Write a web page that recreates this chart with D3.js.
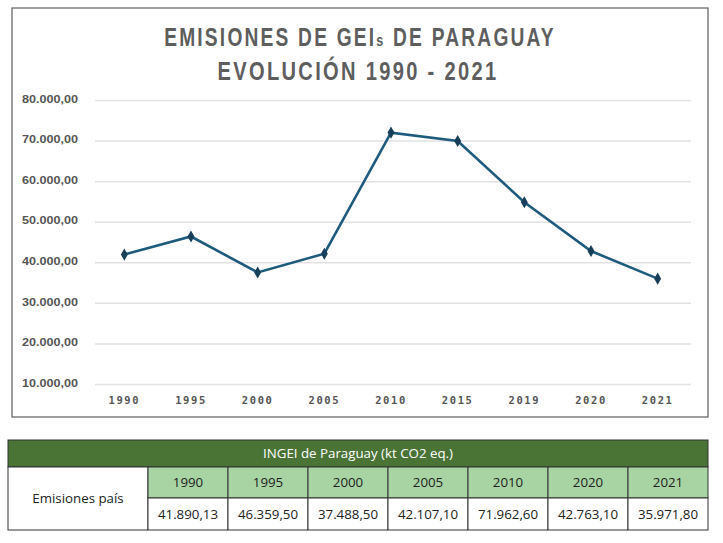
<!DOCTYPE html>
<html><head><meta charset="utf-8">
<script src="https://cdn.jsdelivr.net/npm/d3@7"></script>
<style>body{margin:0;background:#fff}</style>
</head><body>
<svg id="c" width="723" height="543"></svg>
<script>
const years = ["1990","1995","2000","2005","2010","2015","2019","2020","2021"];
const emissions = [41890.13, 46359.5, 37488.5, 42107.1, 71962.6, 69900, 54800, 42763.1, 35971.8];
const yTicks = [10000,20000,30000,40000,50000,60000,70000,80000];
const tableYears = ["1990","1995","2000","2005","2010","2020","2021"];
const tableValues = ["41.890,13","46.359,50","37.488,50","42.107,10","71.962,60","42.763,10","35.971,80"];
const titleLines = ["EMISIONES DE GEIs DE PARAGUAY","EVOLUCIÓN 1990 - 2021"];
const tableTitle = "INGEI de Paraguay (kt CO2 eq.)";
const rowLabel = "Emisiones país";

const svg = d3.select("#c");
// chart frame
svg.append("rect").attr("x",12).attr("y",8).attr("width",696).attr("height",409)
  .attr("fill","#fff").attr("stroke","#6b6b6b").attr("stroke-width",1.3);

// title: condensed look via horizontal scale fitted to target width
const titleFont = "'Liberation Sans','Arial',sans-serif";
function fitTitle(build, cxPos, baseY, targetW){
  const g = svg.append("g");
  const t = g.append("text").attr("x",0).attr("y",0).attr("text-anchor","middle")
    .attr("font-family",titleFont).attr("font-weight","bold").attr("font-size",26)
    .attr("letter-spacing",3).attr("fill","#5e5e5e");
  build(t);
  const w = t.node().getBBox().width;
  const s = targetW / w;
  g.attr("transform",`translate(${cxPos},${baseY}) scale(${s},1)`);
}
fitTitle(t => {
  t.append("tspan").text("EMISIONES DE GEI");
  t.append("tspan").attr("font-size",17).text("s");
  t.append("tspan").text(" DE PARAGUAY");
}, 360, 46, 392);
fitTitle(t => t.text(titleLines[1]), 358, 80, 281);

const x = d3.scaleBand().domain(years).range([91,691]);
const y = d3.scaleLinear().domain([10000,80000]).range([384,100]);

const fmt = v => d3.format(",.2f")(v).replace(/,/g,"X").replace(/\./g,",").replace(/X/g,".");

// grid
const yAxis = d3.axisLeft(y).tickValues(yTicks).tickSize(-(691-95)).tickFormat(fmt);
const gy = svg.append("g").attr("transform","translate(95,0)").call(yAxis);
gy.select(".domain").remove();
gy.selectAll(".tick line").attr("stroke","#e2e2e2").attr("stroke-width",1.5);
gy.selectAll(".tick text").attr("font-family","'Liberation Sans',sans-serif")
  .attr("font-weight","bold").attr("font-size",11).attr("fill","#555")
  .attr("text-anchor","start").attr("x",-73).attr("dy","0.2em")
  .attr("textLength",56).attr("lengthAdjust","spacingAndGlyphs");

const xAxis = d3.axisBottom(x).tickSize(0).tickPadding(0);
const gx = svg.append("g").attr("transform","translate(0,396)").call(xAxis);
gx.select(".domain").remove();
gx.selectAll(".tick text").attr("font-family","'DejaVu Sans Mono',monospace")
  .attr("font-weight","bold").attr("font-size",10.5).attr("letter-spacing",1.6).attr("fill","#555")
  .attr("dy","0.75em");

// line
const cx = d => x(d) + x.bandwidth()/2;
const data = years.map((yr,i)=>({yr, v:emissions[i]}));
svg.append("path").datum(data)
  .attr("d", d3.line().x(d=>cx(d.yr)).y(d=>y(d.v)))
  .attr("fill","none").attr("stroke","#1e5b7c").attr("stroke-width",2.6);
svg.selectAll(".m").data(data).enter().append("path")
  .attr("transform",d=>`translate(${cx(d.yr)},${y(d.v)})`)
  .attr("d", d3.symbol(d3.symbolDiamond, 42))
  .attr("fill","#183f5a");

// table
const tx0 = 8, tx1 = 148, colW = 80, tRight = 708;
const rowY = [440, 467, 498, 530];
const tf = "'Open Sans','Noto Sans',sans-serif";
const fs = 13.3;
svg.append("rect").attr("x",tx0).attr("y",rowY[0]).attr("width",tRight-tx0).attr("height",rowY[1]-rowY[0])
  .attr("fill","#4a7336").attr("stroke","#333").attr("stroke-width",1);
svg.append("text").attr("x",(tx0+tRight)/2).attr("y",(rowY[0]+rowY[1])/2+4.8).attr("text-anchor","middle")
  .attr("font-family",tf).attr("font-size",fs).attr("fill","#fff").text(tableTitle);
svg.append("rect").attr("x",tx0).attr("y",rowY[1]).attr("width",tx1-tx0).attr("height",rowY[3]-rowY[1])
  .attr("fill","#fff").attr("stroke","#333").attr("stroke-width",1);
svg.append("text").attr("x",(tx0+tx1)/2).attr("y",(rowY[1]+rowY[3])/2+4.8).attr("text-anchor","middle")
  .attr("font-family",tf).attr("font-size",fs).attr("fill","#222").text(rowLabel);
tableYears.forEach((yr,i)=>{
  const xx = tx1 + i*colW;
  svg.append("rect").attr("x",xx).attr("y",rowY[1]).attr("width",colW).attr("height",rowY[2]-rowY[1])
    .attr("fill","#a8d3a2").attr("stroke","#333").attr("stroke-width",1);
  svg.append("text").attr("x",xx+colW/2).attr("y",(rowY[1]+rowY[2])/2+4.8).attr("text-anchor","middle")
    .attr("font-family",tf).attr("font-size",fs).attr("fill","#222").text(yr);
  svg.append("rect").attr("x",xx).attr("y",rowY[2]).attr("width",colW).attr("height",rowY[3]-rowY[2])
    .attr("fill","#fff").attr("stroke","#333").attr("stroke-width",1);
  svg.append("text").attr("x",xx+colW/2).attr("y",(rowY[2]+rowY[3])/2+4.8).attr("text-anchor","middle")
    .attr("font-family",tf).attr("font-size",fs).attr("fill","#222").text(tableValues[i]);
});
</script>
</body></html>
